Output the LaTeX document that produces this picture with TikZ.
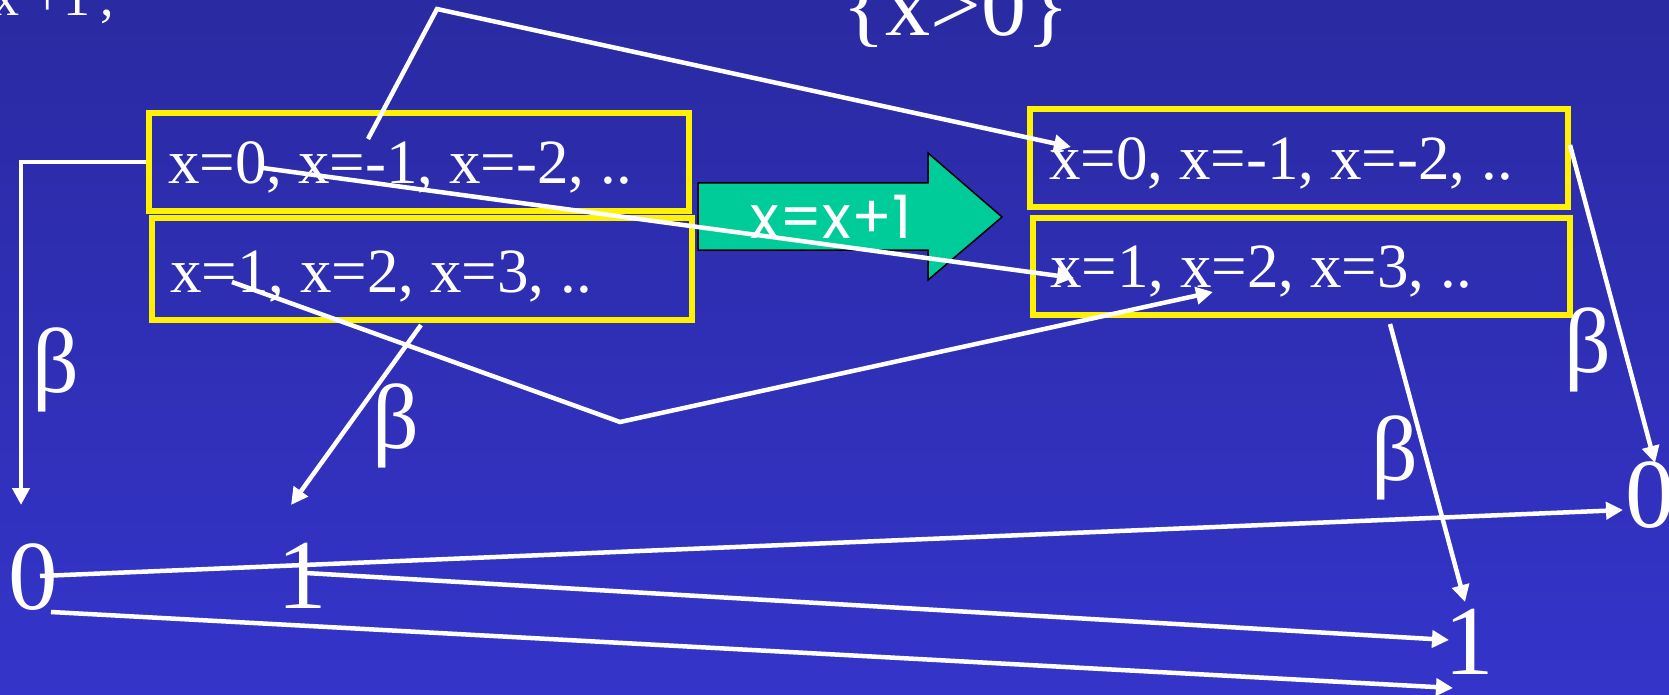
\documentclass[tikz,border=0pt]{standalone}
\usepackage{fontspec}
\setmainfont{Liberation Serif}
\newfontfamily\arrowfont{Poppins}
\usetikzlibrary{arrows.meta}
\definecolor{bgtop}{RGB}{42,42,162}
\definecolor{bgbot}{RGB}{52,52,202}
\definecolor{stgreen}{RGB}{0,204,153}
\begin{document}
\begin{tikzpicture}[x=1pt,y=-1pt,
  conn/.style={draw=white,line width=4.5pt},
  arr/.style={conn,-{Triangle[length=17pt,width=17pt]}},
  statebox/.style={draw=yellow,line width=6pt,inner sep=0pt,rectangle},
  boxtext/.style={text=white,font=\fontsize{63}{70}\selectfont,inner sep=0pt,anchor=base west},
  big/.style={text=white,font=\fontsize{99}{110}\selectfont,inner sep=0pt,anchor=base},
  betalbl/.style={text=white,font=\fontsize{92}{100}\selectfont,inner sep=0pt},
  toptext/.style={text=white,inner sep=0pt}
]
\useasboundingbox (0,0) rectangle (1669,695);
\clip (0,0) rectangle (1669,695);
\shade[top color=bgtop,bottom color=bgbot] (0,0) rectangle (1669,695);

% top texts
\node[toptext,font=\fontsize{54}{60}\selectfont,anchor=base west] (tl) at (-8,16) {x +1\kern10pt,};
\node[toptext,font=\fontsize{90}{100}\selectfont,anchor=base] (cond) at (956,36) {\{x>0\}};

% green arrow
\draw[fill=stgreen,draw=black,line width=1.5pt] (698,183) -- (928,183) -- (928,153) -- (1002,217) -- (928,280) -- (928,250) -- (698,250) -- cycle;
\node[text=white,font=\arrowfont\fontsize{60}{66}\selectfont,anchor=base,inner sep=0pt] (op) at (831,238) {x=x+1};

% boxes
\node[statebox,minimum width=540pt,minimum height=98pt] (A1) at (419,162) {};
\node[statebox,minimum width=540pt,minimum height=102pt] (A2) at (422,269) {};
\node[statebox,minimum width=538pt,minimum height=98pt] (B1) at (1299,158) {};
\node[statebox,minimum width=537pt,minimum height=97pt] (B2) at (1301.5,266.5) {};

\node[boxtext] (tA1) at (168,183) {x=0, x=-1, x=-2, ..};
\node[boxtext] (tA2) at (170,292) {x=1, x=2, x=3, ..};
\node[boxtext] (tB1) at (1049,180) {x=0, x=-1, x=-2, ..};
\node[boxtext] (tB2) at (1050,287) {x=1, x=2, x=3, ..};

% value labels
\node[big] (L0) at (33,609) {0};
\node[big] (L1) at (302,608) {1};
\node[big] (R0) at (1650,527) {0};
\node[big] (R1) at (1469,674) {1};

% beta labels
\node[betalbl] (b1) at (56,370) {β};
\node[betalbl] (b2) at (396,426) {β};
\node[betalbl] (b3) at (1395,458) {β};
\node[betalbl] (b4) at (1588,350) {β};

% connector points
\coordinate (v0) at (21,505);
\coordinate (s2) at (368,139);
\coordinate (k2) at (437,9);
\coordinate (e2) at (1071,147);
\coordinate (s3) at (263,168);
\coordinate (e3) at (1074,278);
\coordinate (s4) at (232,282);
\coordinate (k4) at (620,422);
\coordinate (e4) at (1213,292);
\coordinate (s5) at (421,325);
\coordinate (e5) at (291,505);
\coordinate (s6) at (1390,324);
\coordinate (e6) at (1465,602);
\coordinate (s7) at (1570,145);
\coordinate (e7) at (1655,463);
\coordinate (s8) at (40,576);
\coordinate (e8) at (1623,510);
\coordinate (s9) at (306,573);
\coordinate (e9) at (1449,640);
\coordinate (s10) at (51,612);
\coordinate (e10) at (1453,688);

% connectors
\draw[arr] (A1.west) -| (v0);
\draw[arr] (s2) -- (k2) -- (e2);
\draw[arr] (s3) -- (e3);
\draw[arr] (s4) -- (k4) -- (e4);
\draw[arr] (s5) -- (e5);
\draw[arr] (s6) -- (e6);
\draw[arr] (s7) -- (e7);
\draw[arr] (s8) -- (e8);
\draw[arr] (s9) -- (e9);
\draw[arr] (s10) -- (e10);
\end{tikzpicture}
\end{document}
